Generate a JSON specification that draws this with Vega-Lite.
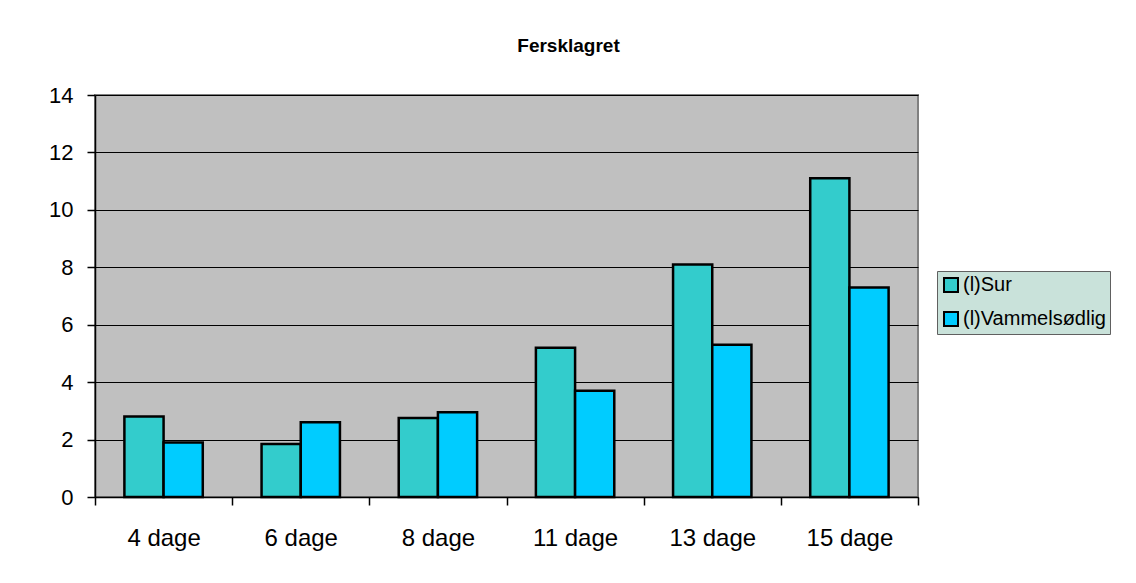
{
  "$schema": "https://vega.github.io/schema/vega-lite/v6.json",
  "width": 823,
  "height": 402,
  "autosize": {"type": "none"},
  "padding": {"left": 95, "top": 95, "right": 218, "bottom": 86},
  "background": "white",
  "title": {
    "text": "Fersklagret",
    "font": "Liberation Sans",
    "fontSize": 19,
    "fontWeight": "bold",
    "color": "black",
    "anchor": "middle",
    "frame": "group",
    "dx": 62,
    "offset": 28
  },
  "data": {
    "values": [
      {"dag": "4 dage", "serie": "(l)Sur", "value": 2.8},
      {"dag": "4 dage", "serie": "(l)Vammelsødlig", "value": 1.9},
      {"dag": "6 dage", "serie": "(l)Sur", "value": 1.85},
      {"dag": "6 dage", "serie": "(l)Vammelsødlig", "value": 2.6},
      {"dag": "8 dage", "serie": "(l)Sur", "value": 2.75},
      {"dag": "8 dage", "serie": "(l)Vammelsødlig", "value": 2.95},
      {"dag": "11 dage", "serie": "(l)Sur", "value": 5.2},
      {"dag": "11 dage", "serie": "(l)Vammelsødlig", "value": 3.7},
      {"dag": "13 dage", "serie": "(l)Sur", "value": 8.1},
      {"dag": "13 dage", "serie": "(l)Vammelsødlig", "value": 5.3},
      {"dag": "15 dage", "serie": "(l)Sur", "value": 11.1},
      {"dag": "15 dage", "serie": "(l)Vammelsødlig", "value": 7.3}
    ]
  },
  "mark": {"type": "bar", "stroke": "black", "strokeWidth": 2.5},
  "encoding": {
    "x": {
      "field": "dag",
      "type": "nominal",
      "sort": ["4 dage", "6 dage", "8 dage", "11 dage", "13 dage", "15 dage"],
      "scale": {"paddingInner": 0, "paddingOuter": 0},
      "axis": {
        "title": null,
        "labelAngle": 0,
        "tickBand": "extent",
        "domainColor": "black",
        "domainWidth": 1.5,
        "tickColor": "black",
        "tickWidth": 1.5,
        "tickSize": 8,
        "labelFont": "Liberation Sans",
        "labelFontSize": 24,
        "labelColor": "black",
        "labelPadding": 21,
        "grid": false
      }
    },
    "xOffset": {
      "field": "serie",
      "type": "nominal",
      "sort": ["(l)Sur", "(l)Vammelsødlig"],
      "scale": {"paddingInner": 0, "paddingOuter": 0.75}
    },
    "y": {
      "field": "value",
      "type": "quantitative",
      "scale": {"domain": [0, 14]},
      "axis": {
        "title": null,
        "values": [0, 2, 4, 6, 8, 10, 12, 14],
        "grid": true,
        "gridColor": "black",
        "gridWidth": 1,
        "domainColor": "black",
        "domainWidth": 1.5,
        "tickColor": "black",
        "tickWidth": 1.5,
        "tickSize": 8,
        "labelFont": "Liberation Sans",
        "labelFontSize": 22,
        "labelColor": "black",
        "labelPadding": 14
      }
    },
    "color": {
      "field": "serie",
      "type": "nominal",
      "scale": {"domain": ["(l)Sur", "(l)Vammelsødlig"], "range": ["#33CCCC", "#00CCFF"]},
      "legend": {
        "title": null,
        "orient": "none",
        "legendX": 842,
        "legendY": 176,
        "fillColor": "#C9E2DA",
        "strokeColor": "#606060",
        "padding": 4,
        "symbolType": "square",
        "symbolSize": 196,
        "symbolStrokeColor": "black",
        "symbolStrokeWidth": 2,
        "symbolOpacity": 1,
        "labelFont": "Liberation Sans",
        "labelFontSize": 20,
        "labelColor": "black",
        "labelLimit": 300,
        "labelOffset": 2,
        "rowPadding": 12
      }
    }
  },
  "config": {
    "view": {"fill": "#C0C0C0", "stroke": "#808080", "strokeWidth": 2}
  }
}
